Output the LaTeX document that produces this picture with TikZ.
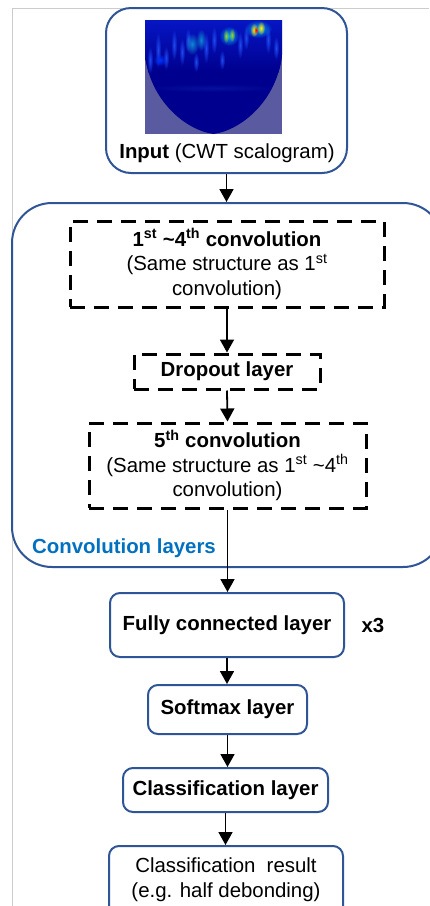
\documentclass[tikz,border=0pt]{standalone}
\usepackage{fontspec}
\setmainfont{Liberation Sans}
\usetikzlibrary{arrows.meta,fadings}

\definecolor{boxblue}{HTML}{2F5597}
\definecolor{labelblue}{HTML}{0070C0}
\definecolor{scalbg}{HTML}{5A5AA0}
\definecolor{scaldark}{HTML}{00008E}
\definecolor{scalmid}{HTML}{0616C4}
\definecolor{scalstreak}{HTML}{1E4AF0}
\definecolor{framegray}{HTML}{CCCCCC}

% soft radial fading for the bright spots of the scalogram
\tikzfading[name=softspot, inner color=transparent!0, outer color=transparent!100]

\begin{document}
\begin{tikzpicture}[x=1pt,y=-1pt,
  txt/.style={font=\fontsize{20.4}{24.5}\selectfont, align=center, inner sep=0pt},
  layerbox/.style={draw=boxblue, line width=2pt, rounded corners=10pt, inner sep=0pt, txt},
  convbox/.style={draw=black, line width=3pt, dash pattern=on 15pt off 9pt, inner sep=0pt, txt},
  flow/.style={-{Triangle[width=14pt,length=13pt]}, line width=1.8pt},
  blob/.style={path fading=softspot}
]
\useasboundingbox (0,0) rectangle (429,906);

% page frame lines
\draw[framegray, line width=1pt] (12,906) -- (12,8) -- (429,8);

% input block with the scalogram
\node[draw=boxblue, line width=2pt, rounded corners=25pt, fill=white,
      minimum width=241pt, minimum height=165pt, inner sep=0pt] (input) at (226.5,90.5) {};

\begin{scope}
  \clip (145,20) rectangle (282,134);
  \fill[scalbg] (145,20) rectangle (282,134);
  \fill[scaldark] (145,20) -- (145,55) .. controls (150,100) and (185,130) .. (213.5,134)
        .. controls (242,130) and (277,100) .. (282,55) -- (282,20) -- cycle;
  \begin{scope}
    \clip (145,20) -- (145,55) .. controls (150,100) and (185,130) .. (213.5,134)
        .. controls (242,130) and (277,100) .. (282,55) -- (282,20) -- cycle;
    \shade[top color=scalmid, bottom color=scaldark] (145,20) rectangle (282,72);
    % faint vertical streaks in the upper band
    \foreach \sx/\sy/\sh in {150/60/14, 158/50/18, 166/58/12, 174/45/16, 182/52/14,
                             188/40/12, 206/48/16, 214/40/14, 240/45/14, 246/38/12,
                             268/40/14, 276/48/12, 222/60/10, 196/62/10}
      \fill[scalstreak, blob] (\sx,\sy) ellipse [x radius=3pt, y radius=\sh pt];
    \fill[scalmid!80!black, blob] (213,88) ellipse [x radius=70pt, y radius=4pt];
    \fill[blue!80!cyan, blob] (160,60) ellipse [x radius=7pt, y radius=6pt];
    % bright ridges
    \fill[cyan!70!blue, blob] (192,44) ellipse [x radius=7pt, y radius=11pt];
    \fill[cyan!70!blue, blob] (201,40) ellipse [x radius=5pt, y radius=11pt];
    \fill[cyan, blob] (229,36) ellipse [x radius=10pt, y radius=10pt];
    \fill[yellow!60!green, blob] (226,36) ellipse [x radius=3pt, y radius=7pt];
    \fill[yellow!60!green, blob] (232,35) ellipse [x radius=3pt, y radius=7pt];
    \fill[cyan, blob] (258,29) ellipse [x radius=14pt, y radius=9pt];
    \fill[yellow, blob] (254,30) ellipse [x radius=4pt, y radius=7pt];
    \fill[yellow, blob] (261,28) ellipse [x radius=4pt, y radius=7pt];
    \fill[red, blob] (256,30) ellipse [x radius=2.5pt, y radius=4pt];
  \end{scope}
\end{scope}

\node[txt] (inputlabel) at (227,153) {\textbf{Input} (CWT scalogram)};

% convolution group
\node[draw=boxblue, line width=2pt, rounded corners=40pt,
      minimum width=431pt, minimum height=364pt, inner sep=0pt] (convgroup) at (227.5,385) {};

\node[convbox, minimum width=314pt, minimum height=86pt] (conv14) at (227,264)
  {\textbf{1\textsuperscript{st} \textasciitilde4\textsuperscript{th} convolution}\\
   (Same structure as 1\textsuperscript{st}\\ convolution)};

\node[convbox, minimum width=186pt, minimum height=35pt] (dropout) at (227,371.5)
  {\textbf{Dropout layer}};

\node[convbox, minimum width=277pt, minimum height=85pt] (conv5) at (227.5,465.5)
  {\textbf{5\textsuperscript{th} convolution}\\
   (Same structure as 1\textsuperscript{st} \textasciitilde4\textsuperscript{th}\\ convolution)};

\node[txt, anchor=west, text=labelblue] (convlabel) at (32,548) {\textbf{Convolution layers}};

% classifier layers
\node[layerbox, minimum width=234pt, minimum height=64pt] (fc) at (227,625)
  {\textbf{Fully connected layer}};
\node[txt] (times) at (373,625) {\textbf{x3}};

\node[layerbox, minimum width=159pt, minimum height=49pt] (softmax) at (227.5,709.5)
  {\textbf{Softmax layer}};

\node[layerbox, minimum width=205pt, minimum height=44pt] (classif) at (225.5,790)
  {\textbf{Classification layer}};

\node[layerbox, minimum width=234pt, minimum height=80pt] (result) at (226,886) {};
\node[txt] (resulttext) at (226,879.5)
  {Classification\hspace{0.55em}result\\(e.g. half debonding)};

% flow arrows
\draw[flow] (input.south) -- (input.south |- convgroup.north);
\draw[flow] (conv14.south) -- (dropout.north);
\draw[flow] (dropout.south) -- (conv5.north);
\draw[flow] (conv5.south) -- (conv5.south |- fc.north);
\draw[flow] (fc.south) -- (fc.south |- softmax.north);
\draw[flow] (softmax.south) -- (softmax.south |- classif.north);
\draw[flow] (classif.south) -- (classif.south |- result.north);
\end{tikzpicture}
\end{document}
